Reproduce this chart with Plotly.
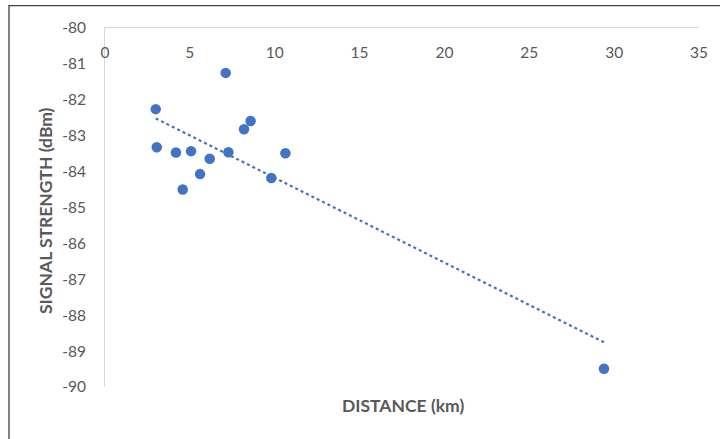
import numpy as np
import plotly.graph_objects as go

distance_km = [2.99, 3.05, 4.18, 5.07, 4.58, 5.60, 6.17, 7.11, 7.27, 8.19, 8.58, 9.80, 10.63, 29.4]
signal_dbm = [-82.26, -83.32, -83.47, -83.43, -84.50, -84.07, -83.64, -81.25, -83.46, -82.82, -82.59, -84.18, -83.49, -89.49]
x_ticks = [0, 5, 10, 15, 20, 25, 30, 35]
y_ticks = [-80, -81, -82, -83, -84, -85, -86, -87, -88, -89, -90]

x = np.array(distance_km)
y = np.array(signal_dbm)
slope, intercept = np.polyfit(x, y, 1)
tx = np.array([x.min(), x.max()])
ty = slope * tx + intercept

W, H = 720, 439
L, R, T, B = 105, 21, 27.5, 51.5
pw, ph = W - L - R, H - T - B

fig = go.Figure()
fig.add_trace(go.Scatter(x=tx, y=ty, mode="lines",
                         line=dict(color="#4472C4", width=2.2, dash="dot"),
                         hoverinfo="skip", showlegend=False))
fig.add_trace(go.Scatter(x=distance_km, y=signal_dbm, mode="markers",
                         marker=dict(color="#4472C4", size=10.5, line=dict(width=0)),
                         showlegend=False))
# invisible trace to carry the label axis
fig.add_trace(go.Scatter(x=[x_ticks[0], x_ticks[-1]], y=[y_ticks[0], y_ticks[0]], xaxis="x2",
                         mode="markers", marker=dict(opacity=0), hoverinfo="skip", showlegend=False))

tick_font = dict(family="Lato, Open Sans, sans-serif", size=15.5, color="#595959")
title_font = dict(family="Lato, Open Sans, sans-serif", size=17.5, color="#595959")

fig.update_layout(
    xaxis=dict(range=[0, 35], side="top", showticklabels=False, showgrid=False, zeroline=False,
               showline=True, linecolor="#d9d9d9", linewidth=1, ticks="", fixedrange=True),
    xaxis2=dict(range=[0, 35], overlaying="x", anchor="free", side="bottom",
                position=1 - (41 - T) / ph, tickvals=x_ticks, ticktext=[str(v) for v in x_ticks],
                showgrid=False, zeroline=False, showline=False, ticks="",
                tickfont=tick_font, fixedrange=True),
    yaxis=dict(range=[-90, -80], tickvals=y_ticks, ticktext=[str(v) for v in y_ticks],
               showgrid=False, zeroline=False, showline=True,
               linecolor="#d9d9d9", linewidth=1, ticks="", ticklabelstandoff=15,
               tickfont=tick_font, fixedrange=True),
)

fig.add_annotation(text="<b>DISTANCE (km)</b>", xref="paper", yref="paper",
                   x=(403 - L) / pw, y=1 - (406 - T) / ph, showarrow=False,
                   font=title_font, xanchor="center", yanchor="middle")
fig.add_annotation(text="<b>SIGNAL STRENGTH (dBm)</b>", xref="paper", yref="paper",
                   x=(46 - L) / pw, y=1 - (211 - T) / ph, showarrow=False, textangle=-90,
                   font=title_font, xanchor="center", yanchor="middle")

fig.add_shape(type="rect", xref="paper", yref="paper",
              x0=(9 - L) / pw, x1=(724 - L) / pw,
              y0=1 - (443 - T) / ph, y1=1 - (5 - T) / ph,
              line=dict(color="#404040", width=1.3), fillcolor="rgba(0,0,0,0)", layer="below")

fig.update_layout(width=W, height=H, margin=dict(l=L, r=R, t=T, b=B),
                  paper_bgcolor="white", plot_bgcolor="white")
fig.write_html("out.html")
